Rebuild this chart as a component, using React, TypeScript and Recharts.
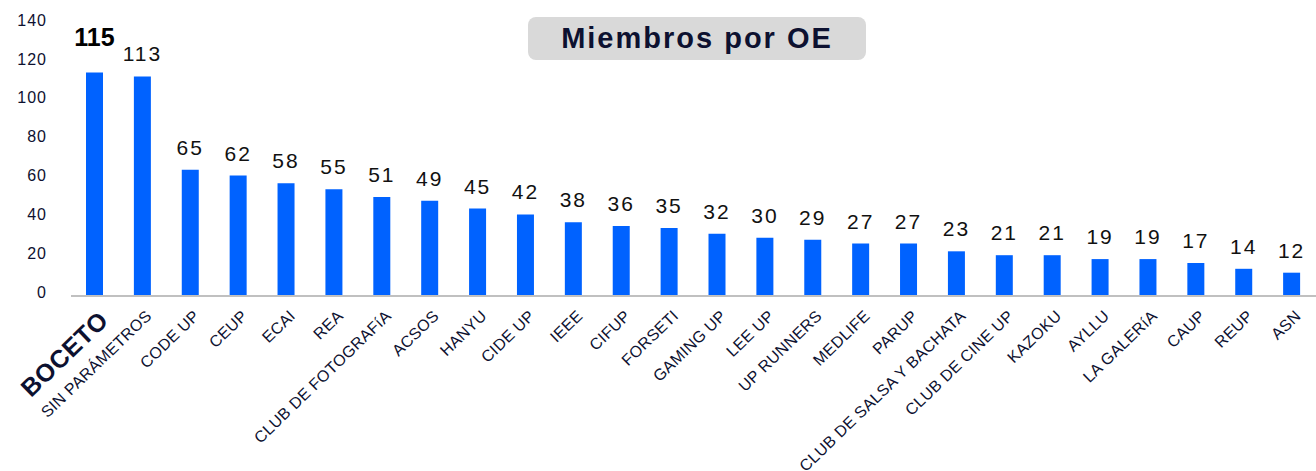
import { BarChart, Bar, XAxis, YAxis, LabelList } from "recharts";

const categories = [
  "BOCETO",
  "SIN PARÁMETROS",
  "CODE UP",
  "CEUP",
  "ECAI",
  "REA",
  "CLUB DE FOTOGRAFíA",
  "ACSOS",
  "HANYU",
  "CIDE UP",
  "IEEE",
  "CIFUP",
  "FORSETI",
  "GAMING UP",
  "LEE UP",
  "UP RUNNERS",
  "MEDLIFE",
  "PARUP",
  "CLUB DE SALSA Y BACHATA",
  "CLUB DE CINE UP",
  "KAZOKU",
  "AYLLU",
  "LA GALERíA",
  "CAUP",
  "REUP",
  "ASN",
];

const members = [
  115, 113, 65, 62, 58, 55, 51, 49, 45, 42, 38, 36, 35, 32, 30, 29, 27, 27, 23,
  21, 21, 19, 19, 17, 14, 12,
];

const yTicks = [0, 20, 40, 60, 80, 100, 120, 140];

const data = categories.map((name, i) => ({ name, value: members[i] }));

const INK = "#0d1130";
const BLUE = "#0062ff";
const FONT = "'Liberation Sans', Arial, sans-serif";

function CategoryTick({ x, y, payload, index }: any) {
  const first = index === 0;
  const ax = x + 2;
  const ay = y + 5;
  return (
    <text
      x={ax}
      y={ay}
      transform={`rotate(-44, ${ax}, ${ay})`}
      textAnchor="end"
      dominantBaseline="hanging"
      fontFamily={FONT}
      fontSize={first ? 25 : 16}
      fontWeight={first ? 700 : 400}
      letterSpacing={first ? 0.5 : 0.3}
      fill={INK}
    >
      {payload.value}
    </text>
  );
}

function ValueLabel({ x, y, width, value, index }: any) {
  const first = index === 0;
  return (
    <text
      x={x + width / 2}
      y={first ? y - 27 : y - 15}
      textAnchor="middle"
      fontFamily={FONT}
      fontSize={first ? 25 : 21}
      fontWeight={first ? 700 : 400}
      letterSpacing={first ? 0 : 2}
      fill={first ? "#000" : "#111"}
    >
      {value}
    </text>
  );
}

export default function App() {
  return (
    <div
      style={{
        position: "absolute",
        left: 0,
        top: 0,
        width: 1316,
        height: 471,
        background: "#fff",
      }}
    >
      <BarChart
        width={1316}
        height={471}
        data={data}
        margin={{ top: 24, right: 0, left: 0, bottom: 0 }}
        barCategoryGap={0}
      >
        <XAxis
          dataKey="name"
          interval={0}
          height={175}
          tickLine={false}
          axisLine={{ stroke: "#c0c0c0", strokeWidth: 2 }}
          tick={<CategoryTick />}
        />
        <YAxis
          domain={[0, 140]}
          ticks={yTicks}
          width={71}
          axisLine={false}
          tickLine={false}
          tick={{
            fontSize: 16,
            fill: INK,
            fontFamily: FONT,
            letterSpacing: 1,
            dx: -16,
            dy: -4,
          }}
        />
        <Bar dataKey="value" fill={BLUE} barSize={17} isAnimationActive={false}>
          <LabelList dataKey="value" content={<ValueLabel />} />
        </Bar>
      </BarChart>
      <div
        style={{
          position: "absolute",
          left: 528,
          top: 17,
          width: 338,
          height: 43,
          background: "#d9d9d9",
          borderRadius: 8,
          display: "flex",
          alignItems: "center",
          justifyContent: "center",
          fontFamily: FONT,
          fontWeight: 700,
          fontSize: 29,
          letterSpacing: 2,
          color: INK,
        }}
      >
        Miembros por OE
      </div>
    </div>
  );
}
